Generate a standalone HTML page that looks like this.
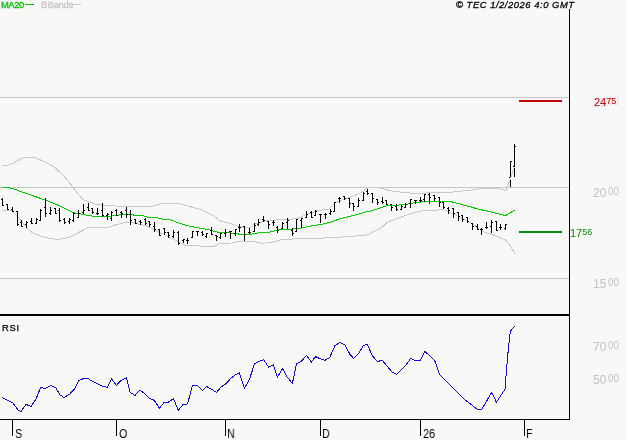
<!DOCTYPE html>
<html><head><meta charset="utf-8"><title>chart</title>
<style>
html,body{margin:0;padding:0;background:#f8f8f8;}
body{width:627px;height:440px;overflow:hidden;position:relative;font-family:"Liberation Sans",sans-serif;}
svg{position:absolute;left:0;top:0;}
.t{position:absolute;white-space:nowrap;line-height:1;will-change:transform;}
.ax{font-size:12px;color:#000;top:428px;transform:scaleX(0.9);transform-origin:0 0;}
.yl{font-size:12px;color:#c2c2c2;left:593px;}
.yl sup{font-size:10px;vertical-align:baseline;position:relative;top:-1.6px;margin-left:1.6px;letter-spacing:0px;line-height:0;}
.cl{font-size:11px;}
.cl sup{font-size:9px;top:-2.4px;margin-left:0.1px;letter-spacing:0px;}
</style></head><body>
<svg width="627" height="440" viewBox="0 0 627 440">
<rect width="627" height="440" fill="#f8f8f8"/>
<g shape-rendering="crispEdges">
<rect x="0" y="97" width="569" height="1" fill="#c6c6c6"/>
<rect x="0" y="187" width="569" height="1" fill="#c6c6c6"/>
<rect x="0" y="278" width="569" height="1" fill="#c6c6c6"/>
</g>
<g fill="none" stroke-width="1" shape-rendering="crispEdges">
<polyline stroke="#c8c8c8" points="2.0,165.5 8.0,165.0 14.0,163.0 20.0,159.0 26.0,157.2 36.0,158.0 45.0,162.0 54.0,166.8 63.0,175.0 73.0,187.0 78.0,194.0 83.0,199.7 90.0,202.0 96.0,204.4 108.4,205.6 115.0,206.0 127.0,206.3 150.0,206.6 155.0,205.7 162.0,203.2 178.0,203.2 190.0,206.6 200.0,209.3 204.0,211.0 213.6,215.7 221.2,221.5 230.8,223.4 239.4,226.7 244.2,227.4 249.9,227.7 254.7,223.9 258.0,223.4 262.8,221.5 267.6,220.3 286.7,219.6 296.3,218.7 301.0,217.2 305.8,214.8 311.6,212.9 316.8,210.7 329.2,209.0 335.0,202.7 340.7,200.4 350.3,197.3 359.8,193.2 365.6,189.3 368.5,187.9 380.4,188.0 389.9,190.7 404.3,192.6 420.0,193.7 429.6,192.6 450.6,192.3 467.8,190.4 480.0,188.7 485.0,188.7 497.0,188.4 505.7,190.4"/>
<polyline stroke="#c8c8c8" points="2.0,210.0 12.0,211.0 17.0,215.8 22.0,222.0 27.0,228.5 33.0,233.0 40.0,236.0 50.0,238.5 57.0,239.4 64.0,238.6 70.0,236.9 80.0,231.8 88.0,227.6 96.0,227.1 108.4,227.1 120.0,223.7 126.6,222.0 130.4,222.3 139.0,224.2 145.8,225.7 153.4,229.0 159.6,232.6 169.1,236.9 178.7,241.7 186.4,245.5 199.8,246.0 204.0,246.4 213.6,246.4 220.3,243.5 231.8,243.0 237.5,241.6 254.7,241.6 262.0,243.3 268.0,242.8 275.2,241.6 282.0,239.2 305.8,238.8 318.0,238.3 340.0,237.2 355.0,236.0 367.0,234.9 375.0,231.0 380.0,228.5 384.2,225.6 387.0,222.3 394.7,219.4 404.3,216.0 415.8,212.2 423.8,210.5 443.9,209.8 448.7,211.9 458.3,216.2 467.8,221.6 473.6,224.4 481.1,230.8 485.9,232.7 492.6,234.6 505.5,239.9 509.8,245.1 515.0,253.7"/>
<polyline stroke="#00cc00" stroke-width="1" points="2.0,187.4 8.0,187.5 15.0,189.3 20.0,191.3 25.0,193.0 35.0,196.5 45.0,199.9 60.0,206.0 73.0,212.6 85.0,214.8 96.0,216.6 108.4,216.3 115.0,215.6 124.7,214.2 132.4,214.2 134.3,215.6 142.9,215.6 147.7,217.2 156.7,217.5 162.4,219.2 169.1,219.2 181.6,224.0 188.3,225.9 195.0,227.3 203.6,228.7 208.8,229.6 213.6,231.1 219.3,232.8 227.9,232.8 232.7,233.4 242.3,234.4 250.9,234.4 253.8,233.3 261.4,232.8 270.4,232.0 280.0,229.2 289.6,229.2 299.1,228.5 305.0,227.2 312.0,225.9 321.6,224.3 331.1,221.9 340.7,218.5 350.3,216.1 359.8,213.8 366.0,211.8 369.8,211.3 375.6,209.4 385.1,206.2 390.9,205.2 404.3,204.9 411.9,203.1 419.6,202.2 425.7,201.2 449.7,201.2 455.4,202.8 463.1,205.0 469.8,206.7 480.0,209.5 485.9,210.7 495.5,213.1 505.5,215.7 514.6,210.2"/>
</g>
<g fill="#000" shape-rendering="crispEdges">
<rect x="2" y="198" width="1" height="8"/><rect x="1" y="199" width="1" height="1"/><rect x="3" y="205" width="1" height="1"/><rect x="7" y="204" width="1" height="6"/><rect x="6" y="204" width="1" height="1"/><rect x="8" y="209" width="1" height="1"/><rect x="12" y="207" width="1" height="5"/><rect x="11" y="209" width="1" height="1"/><rect x="13" y="211" width="1" height="1"/><rect x="17" y="211" width="1" height="15"/><rect x="16" y="211" width="1" height="1"/><rect x="18" y="224" width="1" height="1"/><rect x="21" y="220" width="1" height="7"/><rect x="20" y="222" width="1" height="1"/><rect x="22" y="226" width="1" height="1"/><rect x="26" y="221" width="1" height="7"/><rect x="25" y="224" width="1" height="1"/><rect x="27" y="222" width="1" height="1"/><rect x="31" y="218" width="1" height="6"/><rect x="30" y="221" width="1" height="1"/><rect x="32" y="223" width="1" height="1"/><rect x="36" y="218" width="1" height="6"/><rect x="35" y="223" width="1" height="1"/><rect x="37" y="219" width="1" height="1"/><rect x="40" y="209" width="1" height="12"/><rect x="39" y="220" width="1" height="1"/><rect x="41" y="210" width="1" height="1"/><rect x="45" y="198" width="1" height="19"/><rect x="44" y="207" width="1" height="1"/><rect x="46" y="213" width="1" height="1"/><rect x="50" y="207" width="1" height="8"/><rect x="49" y="213" width="1" height="1"/><rect x="51" y="210" width="1" height="1"/><rect x="55" y="208" width="1" height="6"/><rect x="54" y="208" width="1" height="1"/><rect x="56" y="213" width="1" height="1"/><rect x="59" y="208" width="1" height="14"/><rect x="58" y="210" width="1" height="1"/><rect x="60" y="220" width="1" height="1"/><rect x="64" y="218" width="1" height="6"/><rect x="63" y="219" width="1" height="1"/><rect x="65" y="222" width="1" height="1"/><rect x="69" y="218" width="1" height="6"/><rect x="68" y="221" width="1" height="1"/><rect x="70" y="219" width="1" height="1"/><rect x="73" y="212" width="1" height="10"/><rect x="72" y="220" width="1" height="1"/><rect x="74" y="213" width="1" height="1"/><rect x="78" y="210" width="1" height="8"/><rect x="77" y="217" width="1" height="1"/><rect x="79" y="213" width="1" height="1"/><rect x="83" y="204" width="1" height="10"/><rect x="82" y="212" width="1" height="1"/><rect x="84" y="210" width="1" height="1"/><rect x="88" y="203" width="1" height="8"/><rect x="87" y="207" width="1" height="1"/><rect x="89" y="210" width="1" height="1"/><rect x="92" y="208" width="1" height="6"/><rect x="91" y="208" width="1" height="1"/><rect x="93" y="212" width="1" height="1"/><rect x="97" y="208" width="1" height="7"/><rect x="96" y="213" width="1" height="1"/><rect x="98" y="213" width="1" height="1"/><rect x="102" y="203" width="1" height="14"/><rect x="101" y="210" width="1" height="1"/><rect x="103" y="215" width="1" height="1"/><rect x="107" y="213" width="1" height="7"/><rect x="106" y="215" width="1" height="1"/><rect x="108" y="214" width="1" height="1"/><rect x="111" y="211" width="1" height="10"/><rect x="110" y="218" width="1" height="1"/><rect x="112" y="212" width="1" height="1"/><rect x="116" y="209" width="1" height="7"/><rect x="115" y="210" width="1" height="1"/><rect x="117" y="215" width="1" height="1"/><rect x="121" y="211" width="1" height="7"/><rect x="120" y="212" width="1" height="1"/><rect x="122" y="213" width="1" height="1"/><rect x="126" y="207" width="1" height="11"/><rect x="125" y="210" width="1" height="1"/><rect x="127" y="214" width="1" height="1"/><rect x="130" y="210" width="1" height="15"/><rect x="129" y="214" width="1" height="1"/><rect x="131" y="220" width="1" height="1"/><rect x="135" y="219" width="1" height="5"/><rect x="134" y="219" width="1" height="1"/><rect x="136" y="223" width="1" height="1"/><rect x="140" y="220" width="1" height="5"/><rect x="139" y="221" width="1" height="1"/><rect x="141" y="222" width="1" height="1"/><rect x="145" y="218" width="1" height="7"/><rect x="144" y="219" width="1" height="1"/><rect x="146" y="223" width="1" height="1"/><rect x="149" y="221" width="1" height="6"/><rect x="148" y="221" width="1" height="1"/><rect x="150" y="224" width="1" height="1"/><rect x="154" y="222" width="1" height="10"/><rect x="153" y="226" width="1" height="1"/><rect x="155" y="229" width="1" height="1"/><rect x="159" y="229" width="1" height="7"/><rect x="158" y="229" width="1" height="1"/><rect x="160" y="235" width="1" height="1"/><rect x="164" y="228" width="1" height="7"/><rect x="163" y="228" width="1" height="1"/><rect x="165" y="232" width="1" height="1"/><rect x="168" y="232" width="1" height="6"/><rect x="167" y="232" width="1" height="1"/><rect x="169" y="235" width="1" height="1"/><rect x="173" y="230" width="1" height="8"/><rect x="172" y="236" width="1" height="1"/><rect x="174" y="232" width="1" height="1"/><rect x="178" y="231" width="1" height="14"/><rect x="177" y="232" width="1" height="1"/><rect x="179" y="243" width="1" height="1"/><rect x="183" y="239" width="1" height="4"/><rect x="182" y="240" width="1" height="1"/><rect x="184" y="239" width="1" height="1"/><rect x="187" y="238" width="1" height="6"/><rect x="186" y="240" width="1" height="1"/><rect x="188" y="240" width="1" height="1"/><rect x="192" y="231" width="1" height="7"/><rect x="191" y="237" width="1" height="1"/><rect x="193" y="231" width="1" height="1"/><rect x="197" y="231" width="1" height="5"/><rect x="196" y="231" width="1" height="1"/><rect x="198" y="231" width="1" height="1"/><rect x="202" y="231" width="1" height="5"/><rect x="201" y="232" width="1" height="1"/><rect x="203" y="234" width="1" height="1"/><rect x="206" y="233" width="1" height="5"/><rect x="205" y="236" width="1" height="1"/><rect x="207" y="233" width="1" height="1"/><rect x="211" y="227" width="1" height="8"/><rect x="210" y="230" width="1" height="1"/><rect x="212" y="234" width="1" height="1"/><rect x="216" y="235" width="1" height="6"/><rect x="215" y="235" width="1" height="1"/><rect x="217" y="236" width="1" height="1"/><rect x="220" y="233" width="1" height="6"/><rect x="219" y="237" width="1" height="1"/><rect x="221" y="233" width="1" height="1"/><rect x="225" y="229" width="1" height="8"/><rect x="224" y="233" width="1" height="1"/><rect x="226" y="232" width="1" height="1"/><rect x="230" y="231" width="1" height="8"/><rect x="229" y="231" width="1" height="1"/><rect x="231" y="231" width="1" height="1"/><rect x="235" y="229" width="1" height="7"/><rect x="234" y="233" width="1" height="1"/><rect x="236" y="229" width="1" height="1"/><rect x="239" y="224" width="1" height="8"/><rect x="238" y="227" width="1" height="1"/><rect x="240" y="227" width="1" height="1"/><rect x="244" y="226" width="1" height="15"/><rect x="243" y="226" width="1" height="1"/><rect x="245" y="234" width="1" height="1"/><rect x="249" y="228" width="1" height="6"/><rect x="248" y="232" width="1" height="1"/><rect x="250" y="232" width="1" height="1"/><rect x="254" y="223" width="1" height="9"/><rect x="253" y="231" width="1" height="1"/><rect x="255" y="225" width="1" height="1"/><rect x="258" y="219" width="1" height="7"/><rect x="257" y="224" width="1" height="1"/><rect x="259" y="222" width="1" height="1"/><rect x="263" y="216" width="1" height="6"/><rect x="262" y="219" width="1" height="1"/><rect x="264" y="220" width="1" height="1"/><rect x="268" y="221" width="1" height="8"/><rect x="267" y="221" width="1" height="1"/><rect x="269" y="224" width="1" height="1"/><rect x="273" y="220" width="1" height="6"/><rect x="272" y="222" width="1" height="1"/><rect x="274" y="222" width="1" height="1"/><rect x="277" y="226" width="1" height="7"/><rect x="276" y="227" width="1" height="1"/><rect x="278" y="230" width="1" height="1"/><rect x="282" y="222" width="1" height="7"/><rect x="281" y="228" width="1" height="1"/><rect x="283" y="223" width="1" height="1"/><rect x="287" y="218" width="1" height="11"/><rect x="286" y="222" width="1" height="1"/><rect x="288" y="220" width="1" height="1"/><rect x="292" y="228" width="1" height="8"/><rect x="291" y="230" width="1" height="1"/><rect x="293" y="233" width="1" height="1"/><rect x="296" y="219" width="1" height="13"/><rect x="295" y="231" width="1" height="1"/><rect x="297" y="219" width="1" height="1"/><rect x="301" y="218" width="1" height="10"/><rect x="300" y="220" width="1" height="1"/><rect x="302" y="218" width="1" height="1"/><rect x="306" y="211" width="1" height="7"/><rect x="305" y="217" width="1" height="1"/><rect x="307" y="214" width="1" height="1"/><rect x="311" y="211" width="1" height="7"/><rect x="310" y="212" width="1" height="1"/><rect x="312" y="217" width="1" height="1"/><rect x="315" y="210" width="1" height="6"/><rect x="314" y="215" width="1" height="1"/><rect x="316" y="211" width="1" height="1"/><rect x="320" y="214" width="1" height="9"/><rect x="319" y="214" width="1" height="1"/><rect x="321" y="214" width="1" height="1"/><rect x="325" y="213" width="1" height="6"/><rect x="324" y="214" width="1" height="1"/><rect x="326" y="214" width="1" height="1"/><rect x="330" y="209" width="1" height="6"/><rect x="329" y="213" width="1" height="1"/><rect x="331" y="211" width="1" height="1"/><rect x="334" y="202" width="1" height="10"/><rect x="333" y="211" width="1" height="1"/><rect x="335" y="202" width="1" height="1"/><rect x="339" y="197" width="1" height="6"/><rect x="338" y="198" width="1" height="1"/><rect x="340" y="198" width="1" height="1"/><rect x="344" y="196" width="1" height="4"/><rect x="343" y="196" width="1" height="1"/><rect x="345" y="198" width="1" height="1"/><rect x="349" y="198" width="1" height="10"/><rect x="348" y="198" width="1" height="1"/><rect x="350" y="203" width="1" height="1"/><rect x="353" y="203" width="1" height="8"/><rect x="352" y="203" width="1" height="1"/><rect x="354" y="206" width="1" height="1"/><rect x="358" y="198" width="1" height="9"/><rect x="357" y="206" width="1" height="1"/><rect x="359" y="200" width="1" height="1"/><rect x="363" y="192" width="1" height="9"/><rect x="362" y="200" width="1" height="1"/><rect x="364" y="193" width="1" height="1"/><rect x="367" y="189" width="1" height="6"/><rect x="366" y="191" width="1" height="1"/><rect x="368" y="193" width="1" height="1"/><rect x="372" y="193" width="1" height="10"/><rect x="371" y="193" width="1" height="1"/><rect x="373" y="198" width="1" height="1"/><rect x="377" y="199" width="1" height="6"/><rect x="376" y="199" width="1" height="1"/><rect x="378" y="202" width="1" height="1"/><rect x="382" y="197" width="1" height="7"/><rect x="381" y="201" width="1" height="1"/><rect x="383" y="202" width="1" height="1"/><rect x="386" y="200" width="1" height="5"/><rect x="385" y="200" width="1" height="1"/><rect x="387" y="204" width="1" height="1"/><rect x="391" y="204" width="1" height="7"/><rect x="390" y="204" width="1" height="1"/><rect x="392" y="207" width="1" height="1"/><rect x="396" y="204" width="1" height="7"/><rect x="395" y="206" width="1" height="1"/><rect x="397" y="209" width="1" height="1"/><rect x="401" y="205" width="1" height="5"/><rect x="400" y="209" width="1" height="1"/><rect x="402" y="206" width="1" height="1"/><rect x="405" y="203" width="1" height="5"/><rect x="404" y="207" width="1" height="1"/><rect x="406" y="204" width="1" height="1"/><rect x="410" y="199" width="1" height="9"/><rect x="409" y="203" width="1" height="1"/><rect x="411" y="199" width="1" height="1"/><rect x="415" y="200" width="1" height="4"/><rect x="414" y="200" width="1" height="1"/><rect x="416" y="200" width="1" height="1"/><rect x="420" y="197" width="1" height="5"/><rect x="419" y="200" width="1" height="1"/><rect x="421" y="200" width="1" height="1"/><rect x="424" y="194" width="1" height="8"/><rect x="423" y="199" width="1" height="1"/><rect x="425" y="194" width="1" height="1"/><rect x="429" y="193" width="1" height="11"/><rect x="428" y="194" width="1" height="1"/><rect x="430" y="197" width="1" height="1"/><rect x="434" y="195" width="1" height="6"/><rect x="433" y="195" width="1" height="1"/><rect x="435" y="198" width="1" height="1"/><rect x="439" y="197" width="1" height="10"/><rect x="438" y="197" width="1" height="1"/><rect x="440" y="202" width="1" height="1"/><rect x="443" y="202" width="1" height="7"/><rect x="442" y="202" width="1" height="1"/><rect x="444" y="207" width="1" height="1"/><rect x="448" y="207" width="1" height="7"/><rect x="447" y="208" width="1" height="1"/><rect x="449" y="210" width="1" height="1"/><rect x="453" y="208" width="1" height="10"/><rect x="452" y="208" width="1" height="1"/><rect x="454" y="213" width="1" height="1"/><rect x="458" y="212" width="1" height="9"/><rect x="457" y="212" width="1" height="1"/><rect x="459" y="216" width="1" height="1"/><rect x="462" y="215" width="1" height="7"/><rect x="461" y="215" width="1" height="1"/><rect x="463" y="219" width="1" height="1"/><rect x="467" y="217" width="1" height="6"/><rect x="466" y="217" width="1" height="1"/><rect x="468" y="221" width="1" height="1"/><rect x="472" y="223" width="1" height="7"/><rect x="471" y="223" width="1" height="1"/><rect x="473" y="226" width="1" height="1"/><rect x="477" y="224" width="1" height="6"/><rect x="476" y="226" width="1" height="1"/><rect x="478" y="229" width="1" height="1"/><rect x="481" y="228" width="1" height="7"/><rect x="480" y="229" width="1" height="1"/><rect x="482" y="229" width="1" height="1"/><rect x="486" y="222" width="1" height="7"/><rect x="485" y="227" width="1" height="1"/><rect x="487" y="227" width="1" height="1"/><rect x="491" y="220" width="1" height="13"/><rect x="490" y="226" width="1" height="1"/><rect x="492" y="222" width="1" height="1"/><rect x="496" y="221" width="1" height="10"/><rect x="495" y="221" width="1" height="1"/><rect x="497" y="230" width="1" height="1"/><rect x="500" y="224" width="1" height="6"/><rect x="499" y="227" width="1" height="1"/><rect x="501" y="227" width="1" height="1"/><rect x="505" y="224" width="1" height="6"/><rect x="504" y="228" width="1" height="1"/><rect x="506" y="224" width="1" height="1"/><rect x="510" y="161" width="1" height="26"/><rect x="509" y="177" width="1" height="1"/><rect x="511" y="161" width="1" height="1"/><rect x="514" y="144" width="1" height="33"/><rect x="513" y="166" width="1" height="1"/><rect x="515" y="146" width="1" height="1"/>
</g>
<g fill="none" stroke-width="1" shape-rendering="crispEdges">
<polyline stroke="#c8c8c8" points="505.7,190.4 510,180 514.4,166.6"/>
<polyline stroke="#1010d8" stroke-width="1" points="2.4,397.6 8.0,400.4 13.0,403.0 18.0,410.0 21.0,411.4 26.0,404.4 31.0,406.4 36.0,399.0 40.6,387.6 45.6,388.4 51.0,385.4 56.0,388.0 60.0,395.0 64.0,397.4 69.4,394.4 74.4,389.0 79.0,380.4 84.0,378.4 88.0,378.6 93.0,381.6 98.0,384.0 103.0,386.4 107.4,387.4 111.6,379.0 116.4,385.4 121.0,380.4 126.4,378.0 130.0,392.4 135.0,395.4 140.0,390.0 144.4,393.4 149.6,398.4 154.4,400.4 159.4,408.4 164.0,402.4 168.6,402.0 173.4,398.6 178.4,410.4 183.0,404.4 187.6,404.0 192.4,385.4 197.6,385.4 202.4,390.4 206.6,386.4 212.0,389.6 216.6,392.4 221.0,387.0 225.0,384.6 231.6,377.6 236.0,374.4 239.4,373.0 244.4,388.4 249.6,379.0 254.4,364.0 259.4,361.4 263.6,359.6 268.6,367.0 273.4,365.0 277.4,377.4 282.4,368.4 287.4,377.4 292.4,383.4 296.6,363.6 301.6,361.0 306.6,355.4 311.4,362.0 315.6,356.6 320.6,359.0 325.0,360.4 329.6,357.6 335.0,345.6 340.0,342.4 345.0,345.0 350.0,354.4 353.6,358.4 359.0,353.0 363.4,345.4 367.4,344.4 372.4,356.0 377.6,361.4 382.4,360.4 387.0,366.0 391.6,371.6 396.4,374.4 406.0,365.0 410.6,358.4 415.0,360.4 420.4,360.4 424.6,351.4 429.0,355.0 434.6,360.4 439.6,374.4 464.0,399.0 470.0,403.6 477.4,409.5 481.8,409.5 491.7,392.2 496.4,402.2 505.0,389.4 506.4,371.3 508.4,348.1 510.3,331.5 514.5,326.1"/>
</g>
<g shape-rendering="crispEdges">
<rect x="519" y="100" width="43" height="2" fill="#c80000"/>
<rect x="519" y="231" width="43" height="2" fill="#0a8c0a"/>
<rect x="25" y="3.5" width="9" height="1.7" fill="#00c400"/>
<rect x="72" y="3.6" width="9" height="1.2" fill="#c8c8c8"/>
<rect x="569" y="9" width="1" height="411" fill="#000"/>
<rect x="0" y="314" width="570" height="2" fill="#000"/>
<rect x="0" y="419" width="570" height="1" fill="#000"/>
<rect x="12" y="419" width="1" height="17" fill="#000"/>
<rect x="116" y="419" width="1" height="17" fill="#000"/>
<rect x="225" y="419" width="1" height="17" fill="#000"/>
<rect x="320" y="419" width="1" height="17" fill="#000"/>
<rect x="420" y="419" width="1" height="17" fill="#000"/>
<rect x="524" y="419" width="1" height="17" fill="#000"/>
</g>
</svg>
<div class="t" style="left:1px;top:-0.5px;font-size:9.4px;color:#00c800;letter-spacing:-0.45px;-webkit-text-stroke:0.35px #00c800;">MA20</div>
<div class="t" style="left:40.5px;top:-0.5px;font-size:9.4px;color:#c4c4c4;letter-spacing:-0.3px;-webkit-text-stroke:0.3px #c4c4c4;">B<span style="margin-left:0.8px">Bands</span></div>
<div class="t" style="left:456px;top:-0.5px;font-size:9.4px;letter-spacing:0.55px;-webkit-text-stroke:0.3px #000;font-style:italic;color:#000;">&copy; TEC 1/2/2026 4:0 GMT</div>
<div class="t" style="left:2.1px;top:322.5px;font-size:9.4px;color:#000;letter-spacing:0.8px;-webkit-text-stroke:0.25px #000;">RSI</div>
<div class="t ax" style="left:14.5px;">S</div>
<div class="t ax" style="left:118.7px;">O</div>
<div class="t ax" style="left:227.4px;">N</div>
<div class="t ax" style="left:322.4px;">D</div>
<div class="t ax" style="left:422.8px;">26</div>
<div class="t ax" style="left:526.4px;">F</div>
<div class="t yl" style="top:96.5px;color:#dcdcdc;">25<sup>00</sup></div>
<div class="t yl cl" style="top:97.3px;left:593.5px;color:#cc0000;">24<sup>75</sup></div>
<div class="t yl" style="top:186.5px;">20<sup>00</sup></div>
<div class="t yl cl" style="top:228.3px;left:569.8px;color:#0a8c0a;">17<sup>56</sup></div>
<div class="t yl" style="top:277.5px;">15<sup>00</sup></div>
<div class="t yl" style="top:340.5px;">70<sup>00</sup></div>
<div class="t yl" style="top:373.5px;">50<sup>00</sup></div>
</body></html>
